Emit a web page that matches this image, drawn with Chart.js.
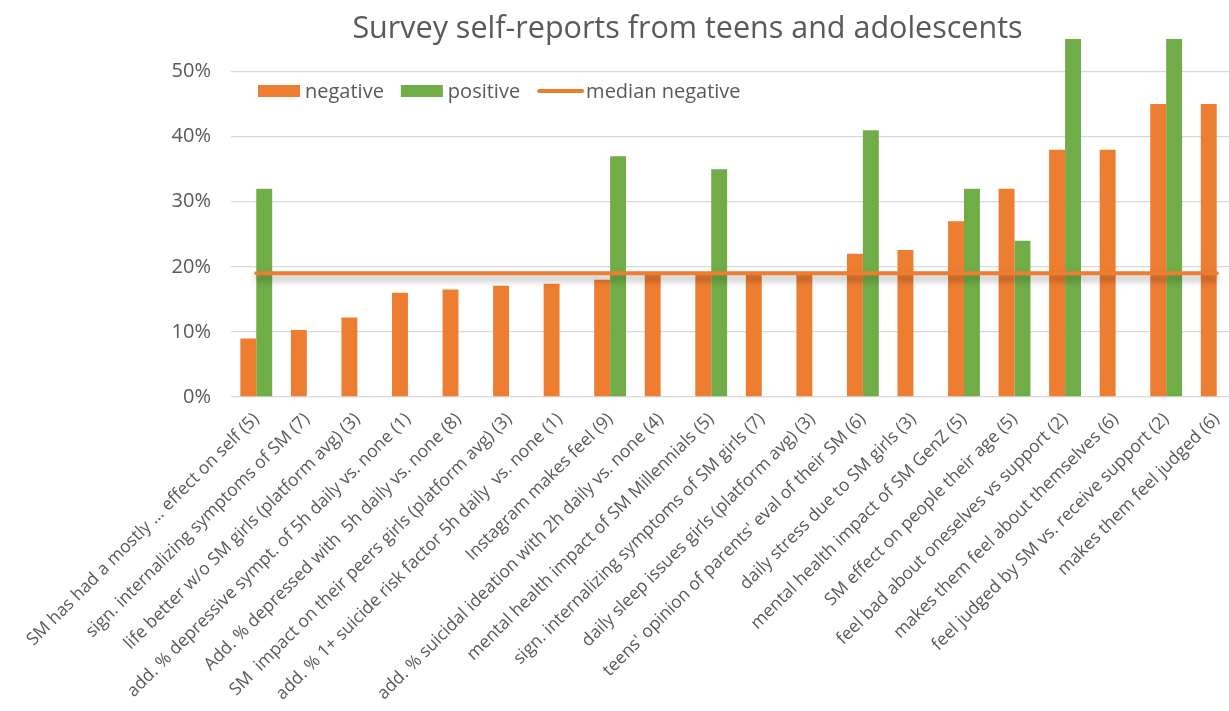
<!DOCTYPE html>
<html>
<head>
<meta charset="utf-8">
<title>Survey self-reports from teens and adolescents</title>
<script src="https://cdn.jsdelivr.net/npm/chart.js@4.4.1/dist/chart.umd.min.js"></script>
<style>
    html, body { margin: 0; padding: 0; background: #fff; overflow: hidden; }
    #wrap { position: relative; width: 1375px; height: 711px; }
</style>
</head>
<body>
<div id="wrap"><canvas id="surveyChart" width="1375" height="711"></canvas></div>
<script>
// Survey items (number of studies in brackets)
const categories = [
    'SM has had a mostly \u2026 effect on self (5)',
    'sign. internalizing symptoms of SM (7)',
    'life better w/o SM girls (platform avg) (3)',
    'add. % depressive sympt. of 5h daily vs. none (1)',
    'Add. % depressed with  5h daily vs. none (8)',
    'SM  impact on their peers girls (platform avg) (3)',
    'add. % 1+ suicide risk factor 5h daily  vs. none (1)',
    'Instagram makes feel (9)',
    'add. % suicidal ideation with 2h daily vs. none (4)',
    'mental health impact of SM Millennials (5)',
    'sign. internalizing symptoms of SM girls (7)',
    'daily sleep issues girls (platform avg) (3)',
    "teens' opinion of parents' eval of their SM (6)",
    'daily stress due to SM girls (3)',
    'mental health impact of SM GenZ (5)',
    'SM effect on people their age (5)',
    'feel bad about oneselves vs support (2)',
    'makes them feel about themselves (6)',
    'feel judged by SM vs. receive support (2)',
    'makes them feel judged (6)'
];

const negative = [0.09, 0.103, 0.122, 0.16, 0.165, 0.171, 0.174, 0.18, 0.188, 0.19,
                  0.19, 0.19, 0.22, 0.226, 0.27, 0.32, 0.38, 0.38, 0.45, 0.45];
const positive = [0.32, null, null, null, null, null, null, 0.37, null, 0.35,
                  null, null, 0.41, null, 0.32, 0.24, 0.55, null, 0.55, null];
const medianNegative = 0.19;
const yTicks = [0, 0.1, 0.2, 0.3, 0.4, 0.5];

const ORANGE = '#ED7D31';
const GREEN = '#70AD47';
const TEXT = '#595959';
const GRID = '#D9D9D9';
const FONT = '"Open Sans", "Liberation Sans", sans-serif';

// legend sits inside the plot, under the 50% line
const insideLegend = {
    id: 'insideLegend',
    afterDraw(chart) {
        const ctx = chart.ctx;
        const area = chart.chartArea;
        let x = area.left + 27;
        const y = area.top + 52;
        ctx.save();
        ctx.font = '20px ' + FONT;
        ctx.textBaseline = 'middle';
        chart.data.datasets.forEach(ds => {
            if (ds.type === 'line') {
                ctx.strokeStyle = ds.borderColor;
                ctx.lineWidth = ds.borderWidth;
                ctx.lineCap = 'round';
                ctx.beginPath();
                ctx.moveTo(x + 2, y);
                ctx.lineTo(x + 45, y);
                ctx.stroke();
                x += 49;
            } else {
                ctx.fillStyle = ds.backgroundColor;
                ctx.fillRect(x, y - 6, 42, 12);
                x += 47;
            }
            ctx.fillStyle = TEXT;
            ctx.fillText(ds.label, x, y + 1);
            x += ctx.measureText(ds.label).width + 17;
        });
        ctx.restore();
    }
};

// soft drop shadow under the median line
const lineShadow = {
    id: 'lineShadow',
    beforeDatasetDraw(chart, args) {
        if (chart.data.datasets[args.index].type !== 'line') return;
        const ctx = chart.ctx;
        ctx.save();
        ctx.shadowColor = 'rgba(0, 0, 0, 0.35)';
        ctx.shadowBlur = 7;
        ctx.shadowOffsetY = 5;
    },
    afterDatasetDraw(chart, args) {
        if (chart.data.datasets[args.index].type !== 'line') return;
        chart.ctx.restore();
    }
};

const ctx = document.getElementById('surveyChart').getContext('2d');
new Chart(ctx, {
    type: 'bar',
    data: {
        labels: categories,
        datasets: [{
            label: 'negative',
            data: negative,
            backgroundColor: ORANGE,
            borderWidth: 0,
            categoryPercentage: 0.63,
            barPercentage: 1.0,
            order: 1
        }, {
            label: 'positive',
            data: positive,
            backgroundColor: GREEN,
            borderWidth: 0,
            categoryPercentage: 0.63,
            barPercentage: 1.0,
            order: 1
        }, {
            type: 'line',
            label: 'median negative',
            data: categories.map(() => medianNegative),
            borderColor: ORANGE,
            backgroundColor: ORANGE,
            borderWidth: 4,
            borderCapStyle: 'round',
            pointRadius: 0,
            fill: false,
            order: 0
        }]
    },
    options: {
        responsive: false,
        animation: false,
        devicePixelRatio: 1,
        plugins: {
            legend: { display: false },
            tooltip: { enabled: false },
            title: {
                display: true,
                text: 'Survey self-reports from teens and adolescents',
                color: TEXT,
                font: { family: FONT, size: 30.5, weight: 'normal', lineHeight: 1 },
                padding: { top: 14, bottom: -5.5 }
            }
        },
        scales: {
            x: {
                grid: { display: false },
                border: { display: false },
                ticks: {
                    autoSkip: false,
                    minRotation: 45,
                    maxRotation: 45,
                    color: TEXT,
                    font: { family: FONT, size: 17.5 },
                    padding: 4
                },
                afterFit(scale) {
                    scale.height = 314;
                    // plot runs on past the visible right edge
                    scale.paddingRight = 133;
                }
            },
            y: {
                min: 0,
                max: 0.55,
                border: { display: false },
                grid: { color: GRID, lineWidth: 1.3, drawTicks: false },
                ticks: {
                    color: TEXT,
                    font: { family: FONT, size: 20 },
                    padding: 20,
                    callback: v => Math.round(v * 100) + '%'
                },
                afterBuildTicks(scale) {
                    scale.ticks = yTicks.map(value => ({ value }));
                },
                afterFit(scale) {
                    scale.width = 231;
                }
            }
        }
    },
    plugins: [insideLegend, lineShadow]
});
</script>
</body>
</html>
